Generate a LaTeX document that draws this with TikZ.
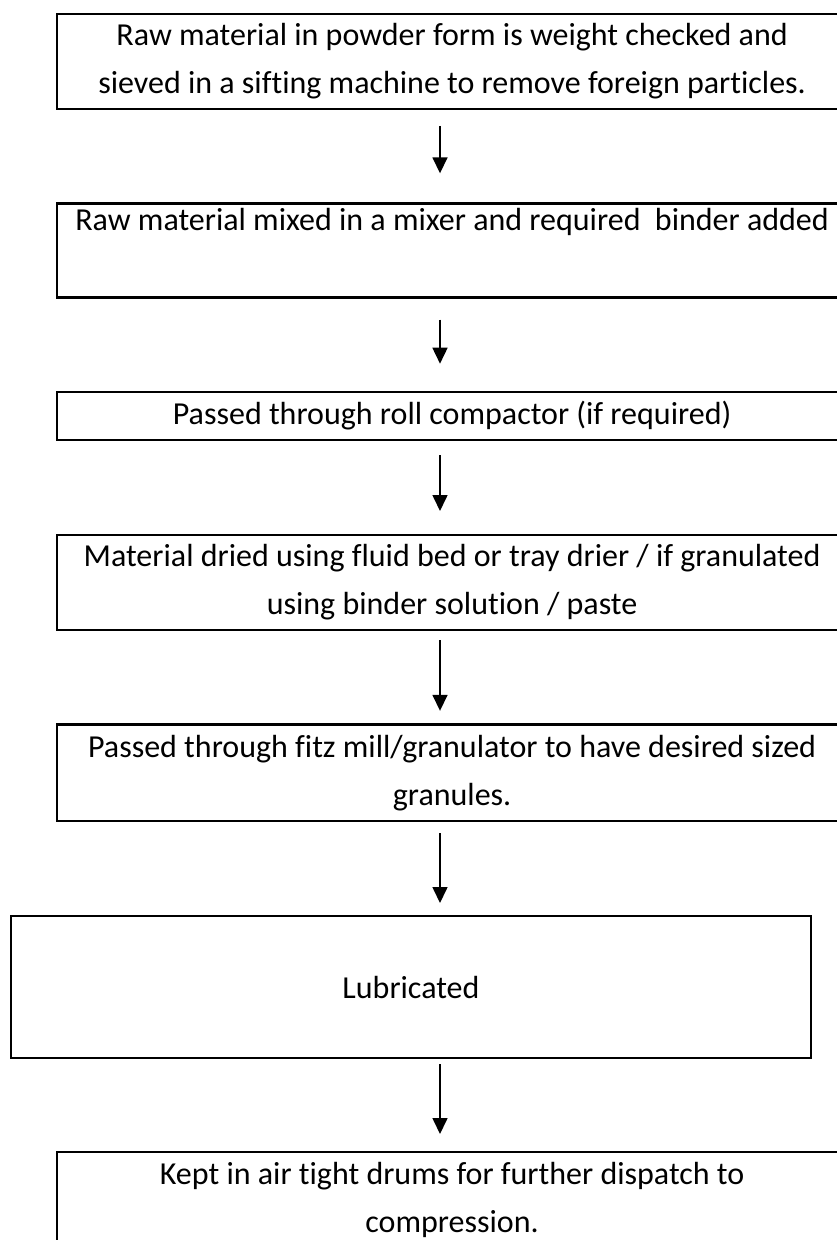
\documentclass[tikz,border=0pt]{standalone}
\usepackage{fontspec}
\setmainfont{Carlito}[Ligatures={NoCommon,NoContextual}]
\usetikzlibrary{arrows.meta}
\begin{document}
\begin{tikzpicture}[x=1pt,y=-1pt,
  box/.style={draw=black, line width=2.2pt, inner sep=0pt, align=center,
    font=\fontsize{32}{48}\selectfont, anchor=north west},
  arr/.style={line width=1.6pt, -{Triangle[width=15pt,length=16pt]}}]
\useasboundingbox (0,0) rectangle (837,1240);
\clip (0,0) rectangle (837,1240);
\coordinate (ax) at (440,0);
\node[box, minimum width=791pt, minimum height=95pt] (b1) at (55.5,12.7)
  {Raw material in powder form is weight checked and\\sieved in a sifting machine to remove foreign particles.};
\node[box, minimum width=791pt, minimum height=94pt] (b2) at (55.5,202.3)
  {Raw material mixed in a mixer and required\ \ binder added\\\strut};
\node[box, minimum width=791pt, minimum height=48.3pt] (b3) at (55.5,390.7)
  {Passed through roll compactor (if required)};
\node[box, minimum width=791pt, minimum height=95pt] (b4) at (55.5,534)
  {Material dried using fluid bed or tray drier / if granulated\\using binder solution / paste};
\node[box, minimum width=791pt, minimum height=96.7pt] (b5) at (55.5,723.3)
  {Passed through fitz mill/granulator to have desired sized\\granules.};
\node[box, minimum width=800.5pt, minimum height=142pt] (b6) at (9.6,915)
  {Lubricated};
\node[box, minimum width=791pt, minimum height=95pt] (b7) at (55.5,1151)
  {Kept in air tight drums for further dispatch to\\compression.};
\draw[arr, shorten <=16pt, shorten >=29pt] (b1.south -| ax) -- (b2.north -| ax);
\draw[arr, shorten <=21pt, shorten >=27pt] (b2.south -| ax) -- (b3.north -| ax);
\draw[arr, shorten <=14pt, shorten >=23pt] (b3.south -| ax) -- (b4.north -| ax);
\draw[arr, shorten <=9pt, shorten >=12.5pt] (b4.south -| ax) -- (b5.north -| ax);
\draw[arr, shorten <=11pt, shorten >=12pt] (b5.south -| ax) -- (b6.north -| ax);
\draw[arr, shorten <=5pt, shorten >=17pt] (b6.south -| ax) -- (b7.north -| ax);
\end{tikzpicture}
\end{document}
